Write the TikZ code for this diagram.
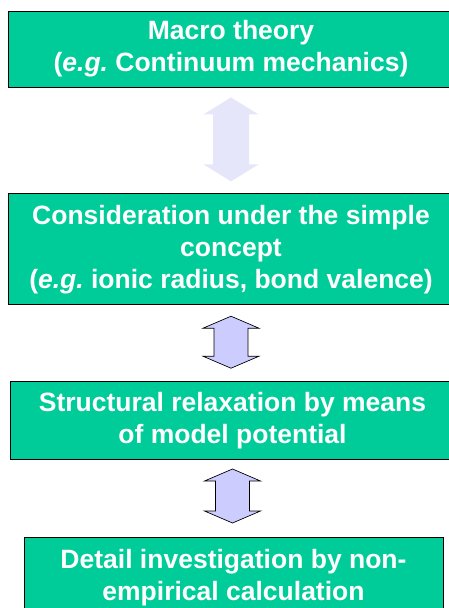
\documentclass[tikz,border=0pt]{standalone}
\usepackage{fontspec}
\setmainfont{Liberation Sans}
\usetikzlibrary{positioning, calc}
\usepackage{xcolor}
\definecolor{levelGreen}{HTML}{00CC99}
\definecolor{linkBlue}{HTML}{CCCCFF}
\definecolor{linkPale}{HTML}{E6E6FA}
\frenchspacing
\tikzset{
    arrow head w/.store in=\ahw, arrow head h/.store in=\ahh, arrow shaft w/.store in=\asw,
    level/.style={rectangle, draw=black, line width=0.8pt, fill=levelGreen, text=white, align=center, inner sep=0pt, font=\bfseries\fontsize{26.5}{32}\selectfont},
    updown/.style={draw=black, line width=0.7pt, fill=linkBlue, arrow head w=28pt, arrow head h=12pt, arrow shaft w=17pt,
        to path={let \p1=(\tikztostart), \p2=(\tikztotarget) in
            (\x1,\y1) -- (\x1+\ahw,\y1-\ahh) -- (\x1+\asw,\y1-\ahh) -- (\x1+\asw,\y2+\ahh) -- (\x1+\ahw,\y2+\ahh)
            -- (\x1,\y2) -- (\x1-\ahw,\y2+\ahh) -- (\x1-\asw,\y2+\ahh) -- (\x1-\asw,\y1-\ahh) -- (\x1-\ahw,\y1-\ahh) -- cycle}},
    paleupdown/.style={updown, draw=none, fill=linkPale, arrow head w=27.5pt, arrow head h=17pt, arrow shaft w=18pt},
}
\begin{document}
\begin{tikzpicture}
    \useasboundingbox (0,0) rectangle (449pt,-608pt);
    % Levels
    \node[level, minimum width=446pt, minimum height=76pt] (theory) at (231pt,-49pt) {Macro theory\\(\textit{e.g.} Continuum mechanics)};

    \node[level, minimum width=446pt, minimum height=111pt, below=106pt of theory] (concept) {Consideration under the simple\\concept\\(\textit{e.g.} ionic radius, bond valence)};

    \node[level, minimum width=444pt, minimum height=78pt, below=76pt of concept, xshift=1.5pt] (relax) {Structural relaxation by means\\of model potential};

    \node[level, minimum width=419pt, minimum height=80pt, below=77pt of relax, xshift=1pt] (detail) {Detail investigation by non-\\empirical calculation};

    % Links
    \draw[paleupdown] ([yshift=-10pt]theory.south) to ([yshift=12pt]concept.north);
    \draw[updown] ([yshift=-11pt]concept.south) to ([yshift=13pt]relax.north);
    \draw[updown] ([yshift=-9pt]relax.south) to ([yshift=14pt]detail.north);
\end{tikzpicture}
\end{document}
